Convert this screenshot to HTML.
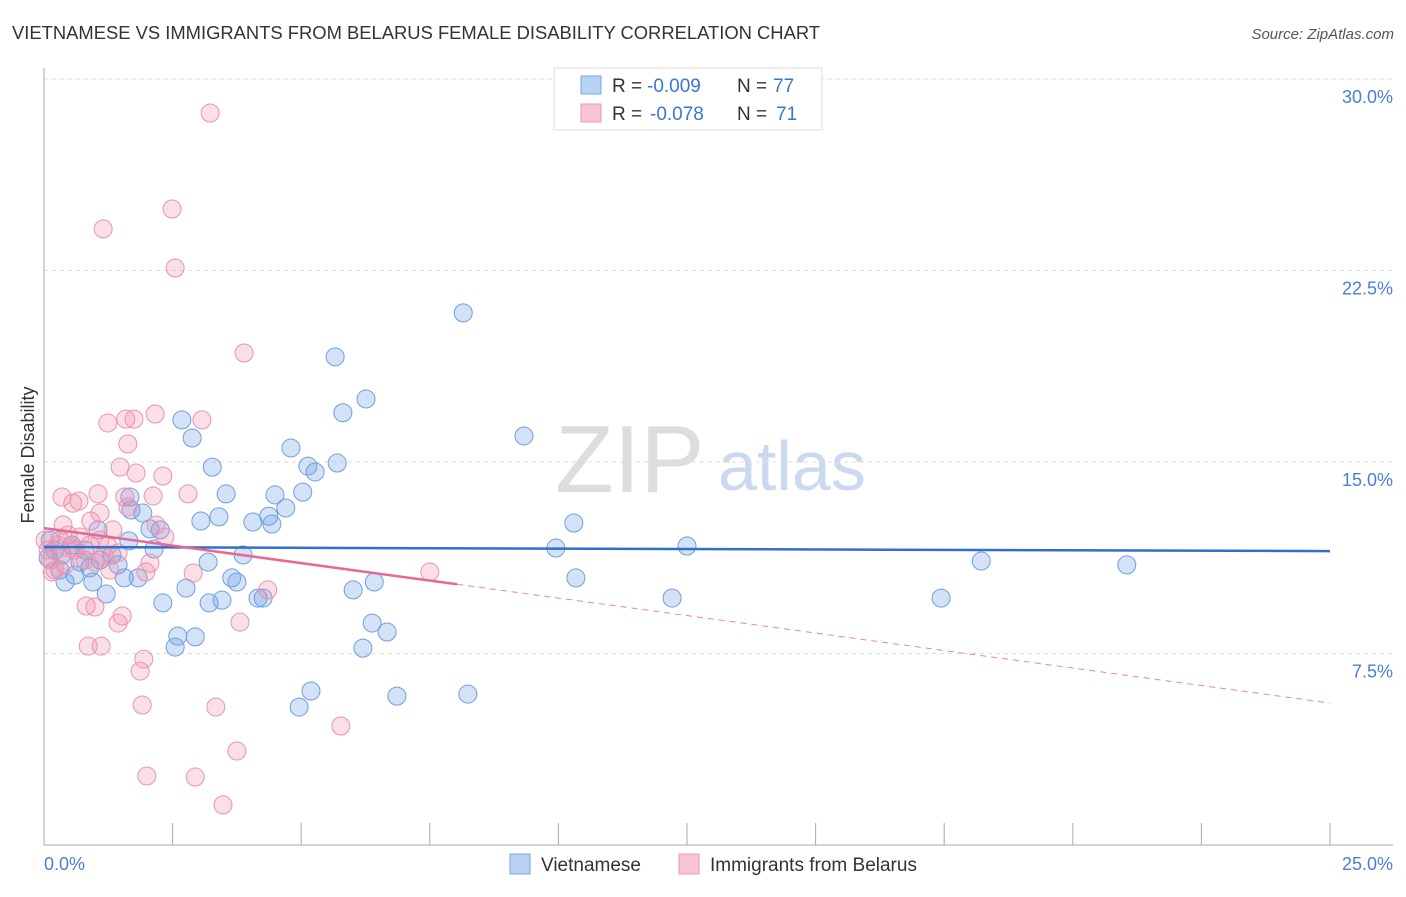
<!DOCTYPE html>
<html><head><meta charset="utf-8"><style>
body{margin:0;background:#fff;font-family:"Liberation Sans",sans-serif;}
svg text{font-family:"Liberation Sans",sans-serif;}
</style></head><body>
<svg id="chart" width="1406" height="892" viewBox="0 0 1406 892">
<text x="12" y="39" font-size="18" fill="#333" textLength="808" lengthAdjust="spacingAndGlyphs">VIETNAMESE VS IMMIGRANTS FROM BELARUS FEMALE DISABILITY CORRELATION CHART</text>
<text x="1394" y="39" font-size="15" fill="#555" font-style="italic" text-anchor="end">Source: ZipAtlas.com</text>
<g>
<text x="555" y="492" font-size="96" font-family="Liberation Serif" fill="#ddd">ZIP</text>
<text x="718" y="490" font-size="70" fill="#c9daf0">atlas</text>
</g>
<g id="grid"></g>
<g id="axes"></g>
<g id="pts"></g>
<g id="trends"></g>
<g>
<rect x="554" y="68" width="268" height="62" fill="#fff" stroke="#ddd"/>
<rect x="581" y="76" width="20" height="18" fill="#b9d3f5" stroke="#7aa6e3"/>
<rect x="581" y="104" width="20" height="18" fill="#f9c4d4" stroke="#ec98b4"/>
<text x="612" y="92" font-size="19" fill="#333">R =</text>
<text x="647" y="92" font-size="19" fill="#3a76d0">-0.009</text>
<text x="737" y="92" font-size="19" fill="#333">N =</text>
<text x="773" y="92" font-size="19" fill="#3a76d0">77</text>
<text x="612" y="120" font-size="19" fill="#333">R =</text>
<text x="650" y="120" font-size="19" fill="#3a76d0">-0.078</text>
<text x="737" y="120" font-size="19" fill="#333">N =</text>
<text x="776" y="120" font-size="19" fill="#3a76d0">71</text>
</g>
<g>
<rect x="510" y="854" width="20" height="20" fill="#b9d3f5" stroke="#7aa6e3"/>
<text x="541" y="871" font-size="19" fill="#333">Vietnamese</text>
<rect x="679" y="854" width="20" height="20" fill="#f9c4d4" stroke="#ec98b4"/>
<text x="710" y="871" font-size="19" fill="#333">Immigrants from Belarus</text>
</g>
<text transform="translate(34,455) rotate(-90)" font-size="18" fill="#333" text-anchor="middle">Female Disability</text>
</svg>
<script>
const yTicks=[7.5,15,22.5,30];
const yTickLabels=["7.5%","15.0%","22.5%","30.0%"];
const xTicks=[0,2.5,5,7.5,10,12.5,15,17.5,20,22.5,25];
const xEndLabels=["0.0%","25.0%"];
const blueX=[8.15,5.66,6.26,5.81,9.33,2.68,2.88,4.80,5.13,5.27,5.70,3.27,3.54,4.49,5.03,4.70,4.37,4.43,4.06,3.40,3.05,1.92,1.67,1.69,1.05,2.06,2.26,1.65,2.14,10.30,9.95,12.50,18.22,21.05,3.87,3.19,3.65,3.75,1.56,1.83,0.95,0.41,1.21,2.31,2.76,3.21,3.46,4.26,4.16,6.01,6.42,10.34,12.21,17.44,2.60,2.94,2.55,6.38,6.67,6.20,5.19,4.96,6.86,8.24,0.12,0.21,0.35,0.54,0.70,0.89,1.09,1.32,1.44,0.31,0.08,0.80,0.60];
const blueY=[20.84,19.12,17.47,16.93,16.02,16.65,15.94,15.55,14.84,14.61,14.96,14.80,13.75,13.71,13.82,13.20,12.88,12.57,12.65,12.85,12.69,13.00,13.63,13.12,12.34,12.38,12.34,11.91,11.59,12.61,11.63,11.71,11.12,10.97,11.36,11.08,10.46,10.30,10.46,10.46,10.30,10.30,9.83,9.48,10.06,9.48,9.59,9.67,9.67,9.99,10.30,10.46,9.67,9.67,8.18,8.15,7.75,8.69,8.34,7.71,6.03,5.40,5.83,5.91,11.94,11.55,11.36,11.75,11.08,10.85,11.16,11.36,10.97,10.77,11.24,11.55,10.57];
const pinkX=[3.23,2.49,1.15,2.55,3.89,2.16,1.59,1.75,1.24,3.07,1.63,1.48,1.79,2.31,2.80,0.35,0.68,0.56,1.05,1.57,2.12,1.09,0.91,1.63,2.18,1.34,2.35,0.70,0.31,0.54,0.89,1.24,1.44,2.06,1.98,2.90,4.35,7.50,1.28,0.82,0.99,1.52,1.44,3.81,0.86,1.11,1.94,1.87,1.91,3.34,5.77,3.75,2.00,2.94,3.48,0.12,0.21,0.41,0.60,0.27,0.47,0.08,0.16,0.99,1.17,0.80,1.09,0.37,0.02];
const pinkY=[28.67,24.91,24.13,22.60,19.27,16.88,16.68,16.68,16.53,16.65,15.71,14.80,14.57,14.45,13.75,13.63,13.47,13.39,13.75,13.63,13.67,13.00,12.69,13.24,12.53,12.34,12.06,12.06,11.94,11.63,11.75,11.71,11.44,11.04,10.69,10.65,9.99,10.69,10.77,9.36,9.32,8.97,8.69,8.73,7.79,7.79,7.28,6.81,5.48,5.40,4.66,3.68,2.70,2.66,1.57,11.16,10.77,10.97,11.55,11.75,12.14,11.55,10.69,11.08,11.32,11.16,11.94,12.53,11.94];
const blueTrend=[11.67,11.51];
const pinkTrend=[12.41,5.56];
const pinkSolidEnd=8.03;
const X=v=>44+v/25*1286;
const Y=v=>462-(v-15)*25.53;
const NS="http://www.w3.org/2000/svg";
function mk(tag,attrs,parent){const e=document.createElementNS(NS,tag);for(const k in attrs)e.setAttribute(k,attrs[k]);parent.appendChild(e);return e;}
const grid=document.getElementById('grid'),axes=document.getElementById('axes'),pts=document.getElementById('pts'),tr=document.getElementById('trends');
yTicks.forEach((t,i)=>{
 const l=mk('line',{x1:44,x2:1393,y1:Y(t),y2:Y(t),stroke:'#ddd','stroke-dasharray':'4,4'},grid);
 
 
 const tx=mk('text',{x:1393,y:Y(t)+24,'font-size':18,fill:'#4a80d0','text-anchor':'end'},grid);
 tx.textContent=yTickLabels[i];
 
 
});
const ya=mk('line',{x1:44,x2:44,y1:68,y2:845,stroke:'#aaa'},axes);


const xa=mk('line',{x1:44,x2:1393,y1:845,y2:845,stroke:'#aaa'},axes);


xTicks.forEach(t=>{
 const l=mk('line',{x1:X(t),x2:X(t),y1:823,y2:845,stroke:'#aaa'},axes);
 
 
});
const xl0=mk('text',{x:44,y:870,'font-size':18,fill:'#4a80d0'},axes);xl0.textContent=xEndLabels[0];


const xl1=mk('text',{x:1393,y:870,'font-size':18,fill:'#4a80d0','text-anchor':'end'},axes);xl1.textContent=xEndLabels[1];


blueX.forEach((x,i)=>{
 const c=mk('circle',{cx:X(x),cy:Y(blueY[i]),r:9,fill:'rgba(110,160,230,0.3)',stroke:'#6f9fe0','stroke-width':1},pts);
 
 
});
pinkX.forEach((x,i)=>{
 const c=mk('circle',{cx:X(x),cy:Y(pinkY[i]),r:9,fill:'rgba(240,140,170,0.28)',stroke:'#eb93b0','stroke-width':1},pts);
 
 
});
const bt=mk('line',{x1:X(0),y1:Y(blueTrend[0]),x2:X(25),y2:Y(blueTrend[1]),stroke:'#2f6fd0','stroke-width':2.5},tr);


const pAt=x=>pinkTrend[0]+(pinkTrend[1]-pinkTrend[0])*x/25;
const ps=mk('line',{x1:X(0),y1:Y(pinkTrend[0]),x2:X(pinkSolidEnd),y2:Y(pAt(pinkSolidEnd)),stroke:'#e86895','stroke-width':2.5},tr);


const pd=mk('line',{x1:X(pinkSolidEnd),y1:Y(pAt(pinkSolidEnd)),x2:X(25),y2:Y(pinkTrend[1]),stroke:'#e986a8','stroke-width':1,'stroke-dasharray':'6,5'},tr);


</script>
</body></html>
